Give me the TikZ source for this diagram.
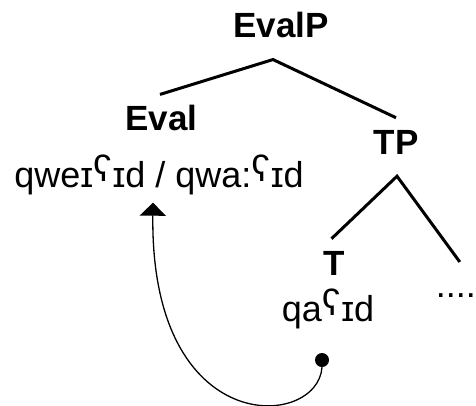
\documentclass[tikz,border=0pt]{standalone}
\usepackage{fontspec}
\usepackage{graphicx}
\setmainfont{Liberation Sans}
\usetikzlibrary{arrows.meta}
% small raised pharyngeal
\newcommand{\ain}{\raisebox{0.15em}{\scalebox{1.02}{ʕ}}}
\begin{document}
\begin{tikzpicture}[
        x=1pt, y=-1pt,
        cat/.style={
            font=\fontsize{35}{40}\selectfont\bfseries,
            inner sep=0pt,
            anchor=base
        },
        form/.style={
            font=\fontsize{36}{40}\selectfont,
            inner sep=0pt,
            anchor=base
        },
        branch/.style={line width=3pt},
        movearrow/.style={line width=1.3pt, -{Triangle[width=26pt, length=13pt]}}
    ]

    % (0,0) at left top corner
    \useasboundingbox (0,0) rectangle (476,405);

    % --- categories ---
    \node[cat] (evalp) at (281,37) {EvalP};
    \node[cat] (eval) at (161.5,130) {Eval};
    \node[cat] (tp) at (396,154) {TP};
    \node[cat] (t) at (334.5,275) {T};

    % --- forms ---
    \node[form] (evalform) at (159,187) {qweɪ\ain\kern1pt ɪd / qwa:\ain\kern1pt ɪd};
    \node[form] (tform) at (328,321) {qa\ain\kern1pt ɪd};
    \node[form, anchor=base east] (dots) at (476,297) {....};

    % --- branches ---
    \draw[branch] ([xshift=-1.5pt, yshift=10pt]eval.north)
        -- ([xshift=-8pt, yshift=-22pt]evalp.south)
        -- ([yshift=12pt]tp.north);
    \draw[branch] ([xshift=-3pt, yshift=12pt]t.north)
        -- ([xshift=1pt, yshift=-22pt]tp.south)
        -- ([xshift=4pt, yshift=31pt]dots.north);

    % --- movement of the head ---
    \node[circle, fill, inner sep=0pt, minimum size=14pt] (trace) at (322,360) {};
    \draw[movearrow] (trace.south)
        .. controls +(-4,62) and +(-3,238) ..
        ([xshift=-6pt, yshift=-8pt]evalform.south);

\end{tikzpicture}
\end{document}
